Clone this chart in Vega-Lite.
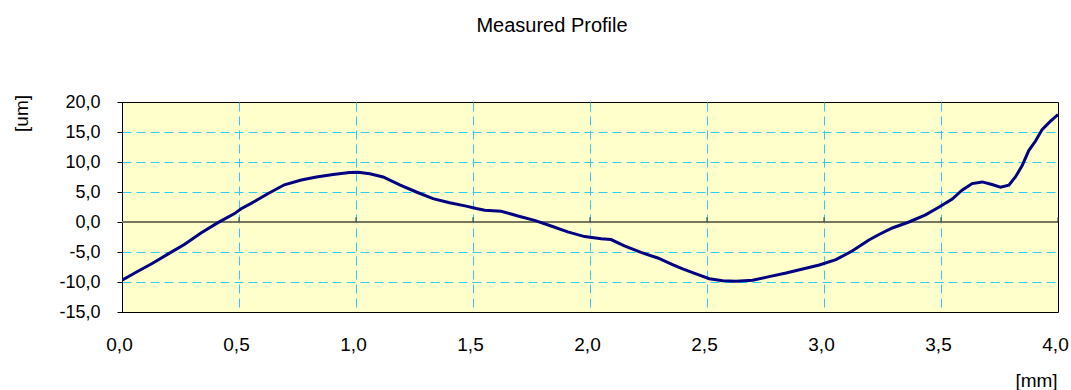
{
  "$schema": "https://vega.github.io/schema/vega-lite/v6.json",
  "width": 936,
  "height": 210,
  "autosize": {"type": "none"},
  "padding": {"left": 122, "top": 102, "right": 13, "bottom": 78},
  "background": "white",
  "title": {
    "text": "Measured Profile",
    "fontSize": 20,
    "fontWeight": "normal",
    "font": "Liberation Sans",
    "color": "black",
    "anchor": "middle",
    "frame": "group",
    "baseline": "alphabetic",
    "offset": 41,
    "dx": -38
  },
  "config": {
    "font": "Liberation Sans",
    "view": {"stroke": "black", "strokeWidth": 1, "fill": "#FFFFCC"}
  },
  "datasets": {
    "profile": [
      {"mm": 0.0, "um": -9.7}, {"mm": 0.068, "um": -8.2}, {"mm": 0.125, "um": -7.0}, {"mm": 0.196, "um": -5.35},
      {"mm": 0.268, "um": -3.7}, {"mm": 0.339, "um": -1.8}, {"mm": 0.41, "um": -0.1}, {"mm": 0.481, "um": 1.4},
      {"mm": 0.509, "um": 2.2}, {"mm": 0.552, "um": 3.1}, {"mm": 0.623, "um": 4.7}, {"mm": 0.694, "um": 6.2},
      {"mm": 0.766, "um": 7.0}, {"mm": 0.831, "um": 7.5}, {"mm": 0.902, "um": 7.9}, {"mm": 0.973, "um": 8.25},
      {"mm": 1.009, "um": 8.3}, {"mm": 1.059, "um": 8.05}, {"mm": 1.116, "um": 7.5}, {"mm": 1.187, "um": 6.2},
      {"mm": 1.258, "um": 5.0}, {"mm": 1.329, "um": 3.9}, {"mm": 1.4, "um": 3.2}, {"mm": 1.471, "um": 2.65},
      {"mm": 1.514, "um": 2.25}, {"mm": 1.55, "um": 1.95}, {"mm": 1.621, "um": 1.8}, {"mm": 1.692, "um": 1.0},
      {"mm": 1.763, "um": 0.28}, {"mm": 1.834, "um": -0.66}, {"mm": 1.905, "um": -1.65}, {"mm": 1.977, "um": -2.43},
      {"mm": 2.048, "um": -2.8}, {"mm": 2.09, "um": -2.92}, {"mm": 2.147, "um": -3.97}, {"mm": 2.218, "um": -5.07},
      {"mm": 2.29, "um": -6.0}, {"mm": 2.35, "um": -7.05}, {"mm": 2.396, "um": -7.83}, {"mm": 2.453, "um": -8.65},
      {"mm": 2.51, "um": -9.45}, {"mm": 2.567, "um": -9.8}, {"mm": 2.624, "um": -9.87}, {"mm": 2.695, "um": -9.7},
      {"mm": 2.766, "um": -9.1}, {"mm": 2.838, "um": -8.5}, {"mm": 2.909, "um": -7.83}, {"mm": 2.98, "um": -7.17},
      {"mm": 3.051, "um": -6.28}, {"mm": 3.122, "um": -4.8}, {"mm": 3.192, "um": -3.0}, {"mm": 3.235, "um": -2.08},
      {"mm": 3.292, "um": -1.0}, {"mm": 3.363, "um": 0.0}, {"mm": 3.434, "um": 1.2}, {"mm": 3.496, "um": 2.57},
      {"mm": 3.548, "um": 3.83}, {"mm": 3.59, "um": 5.3}, {"mm": 3.633, "um": 6.4}, {"mm": 3.676, "um": 6.68},
      {"mm": 3.718, "um": 6.24}, {"mm": 3.754, "um": 5.8}, {"mm": 3.79, "um": 6.13}, {"mm": 3.818, "um": 7.5},
      {"mm": 3.847, "um": 9.4}, {"mm": 3.875, "um": 11.9}, {"mm": 3.904, "um": 13.5}, {"mm": 3.932, "um": 15.4},
      {"mm": 3.968, "um": 16.8}, {"mm": 4.0, "um": 17.9}
    ],
    "zeroline": [
      {"mm": 0, "mm2": 4, "um": 0}
    ],
    "ticks": [
      {"mm": 0.5, "um": 0, "um2": 0.8}, {"mm": 1.0, "um": 0, "um2": 0.8}, {"mm": 1.5, "um": 0, "um2": 0.8},
      {"mm": 2.0, "um": 0, "um2": 0.8}, {"mm": 2.5, "um": 0, "um2": 0.8}, {"mm": 3.0, "um": 0, "um2": 0.8},
      {"mm": 3.5, "um": 0, "um2": 0.8}, {"mm": 4.0, "um": 0, "um2": 0.8}
    ]
  },
  "encoding": {
    "x": {
      "field": "mm", "type": "quantitative",
      "scale": {"domain": [0, 4], "nice": false, "zero": false},
      "axis": {
        "values": [0, 0.5, 1, 1.5, 2, 2.5, 3, 3.5, 4],
        "labelExpr": "datum.value % 1 == 0 ? datum.value + ',0' : replace(datum.value + '', '.', ',')",
        "labelFontSize": 19,
        "labelColor": "black",
        "labelPadding": 23,
        "labelOffset": -3,
        "labelFlush": false,
        "labelOverlap": false,
        "ticks": false,
        "domain": false,
        "grid": true,
        "gridColor": "#33CCEE",
        "gridDash": [9, 5],
        "gridWidth": 1,
        "gridOpacity": {"condition": {"test": "datum.value == 0 || datum.value == 4", "value": 0}, "value": 1},
        "title": "[mm]",
        "titleFontSize": 19,
        "titleFontWeight": "normal",
        "titleColor": "black",
        "titleAlign": "center",
        "titleBaseline": "alphabetic",
        "titleX": 914,
        "titleY": 74
      }
    },
    "y": {
      "field": "um", "type": "quantitative",
      "scale": {"domain": [-15, 20], "nice": false, "zero": false},
      "axis": {
        "values": [-15, -10, -5, 0, 5, 10, 15, 20],
        "labelExpr": "datum.value + ',0'",
        "labelFontSize": 18,
        "labelColor": "black",
        "labelPadding": 17,
        "labelFlush": false,
        "labelOverlap": false,
        "ticks": true,
        "tickSize": 5,
        "tickColor": "black",
        "domain": true,
        "domainColor": "black",
        "grid": true,
        "gridColor": "#33CCEE",
        "gridDash": [9, 5],
        "gridWidth": 1,
        "gridOpacity": {"condition": {"test": "datum.value == 20 || datum.value == -15 || datum.value == 0", "value": 0}, "value": 1},
        "title": "[um]",
        "titleFontSize": 19,
        "titleFontWeight": "normal",
        "titleColor": "black",
        "titleAngle": -90,
        "titleAlign": "center",
        "titleBaseline": "alphabetic",
        "titleX": -95,
        "titleY": 11
      }
    }
  },
  "layer": [
    {
      "data": {"name": "zeroline"},
      "mark": {"type": "rule", "color": "#77775f", "strokeWidth": 2},
      "encoding": {"x2": {"field": "mm2"}}
    },
    {
      "data": {"name": "ticks"},
      "mark": {"type": "rule", "color": "#333333", "strokeWidth": 1},
      "encoding": {"y2": {"field": "um2"}}
    },
    {
      "data": {"name": "profile"},
      "mark": {"type": "line", "color": "#000080", "strokeWidth": 3, "clip": true},
      "encoding": {}
    }
  ]
}
